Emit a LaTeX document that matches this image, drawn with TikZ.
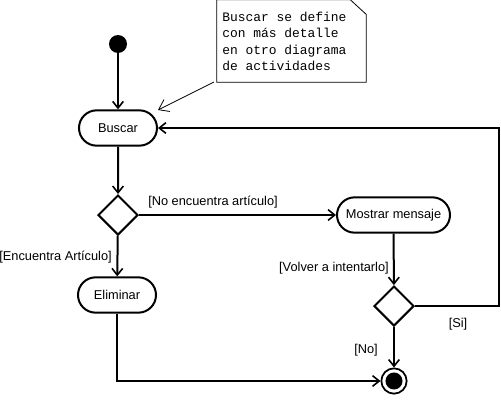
\documentclass[tikz,border=0pt]{standalone}
\usepackage{fontspec}
\setmainfont{Liberation Sans}
\newfontfamily\notefont{Liberation Mono}
\usetikzlibrary{shapes.misc,shapes.geometric,arrows.meta}
\begin{document}
\begin{tikzpicture}[x=0.75pt,y=-0.75pt,
  font=\fontsize{9.6}{11}\selectfont,
  act/.style={draw, line width=1.5pt, rounded rectangle, minimum width=58.5pt, minimum height=26.5pt, inner sep=0pt},
  dec/.style={draw, line width=1.5pt, diamond, minimum width=30pt, minimum height=30pt, inner sep=0pt},
  flow/.style={line width=1.5pt, -{Straight Barb[length=5pt,width=8pt,line width=1.2pt]}},
  guard/.style={inner sep=0pt}
]
\useasboundingbox (0,0) rectangle (501,400);
\fill[white] (0,0) rectangle (501,400);

% nodes
\node[circle, fill=black, minimum size=13.5pt, inner sep=0pt] (start) at (118,44) {};
\node[act] (buscar) at (118,128) {Buscar};
\node[dec] (d1) at (118,215) {};
\node[act] (elim) at (117,295) {Eliminar};
\node[act, minimum width=84.75pt] (most) at (393.5,215) {Mostrar mensaje};
\node[dec] (d2) at (394,306) {};
\node[circle, draw, line width=1.3pt, minimum size=19pt, inner sep=0pt,
  path picture={\fill[black] (path picture bounding box.center) circle (6.4pt);}] (end) at (394,381) {};

% note
\node[minimum width=111.75pt, minimum height=61.5pt, inner sep=0pt] (note) at (291.5,41) {};
\draw[line width=0.6pt] (note.south west) -- (note.north west) -- ([xshift=-12pt]note.north east)
  -- ([yshift=-11pt]note.north east) -- (note.south east) -- cycle;
\node[anchor=north west, align=left, inner sep=0pt, font=\notefont\fontsize{9.7}{12.2}\selectfont] (notetext) at (222,12)
  {Buscar se define\\con más detalle\\en otro diagrama\\de actividades};
\coordinate (ntip) at (158,110);
\coordinate (nbase) at (214,82);
\draw[line width=0.6pt, -{Straight Barb[length=7pt,width=10pt,line width=0.6pt]}] (nbase) -- (ntip);

% connectors
\coordinate (corner) at (499,128);
\draw[flow] (start) -- (buscar);
\draw[flow] (buscar) -- (d1);
\draw[flow] (d1) -- (elim);
\draw[flow] (d1) -- (most);
\draw[flow] (most) -- (d2);
\draw[flow] (d2) -- (end);
\draw[flow] (d2.east) -| (corner) -- (buscar.east);
\draw[flow] (elim.south) |- (end.west);

% guards
\node[guard, anchor=west] (g1) at (148,202) {[No encuentra artículo]};
\node[guard, anchor=east] (g2) at (112,257) {[Encuentra Artículo]};
\node[guard, anchor=east] (g3) at (389,268) {[Volver a intentarlo]};
\node[guard] (g4) at (458,324) {[Si]};
\node[guard] (g5) at (366,350) {[No]};
\end{tikzpicture}
\end{document}
